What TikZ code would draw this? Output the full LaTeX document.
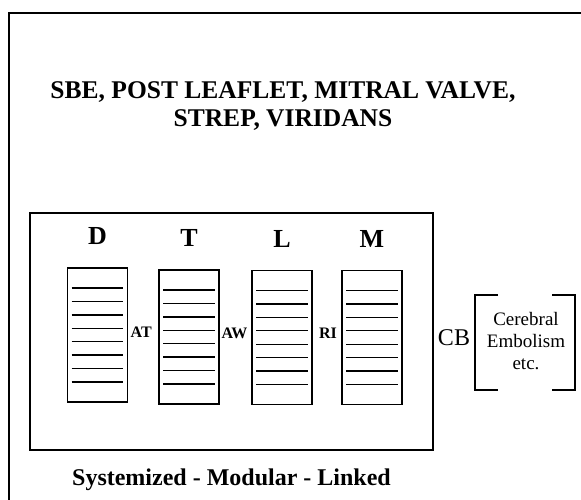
\documentclass[tikz,border=0pt]{standalone}
\usepackage{fontspec}
\setmainfont{Liberation Serif}
\usetikzlibrary{positioning, calc}

\begin{document}
\begin{tikzpicture}[x=1pt, y=-1pt,
        heading/.style={font=\fontsize{25.5}{28}\selectfont\bfseries, align=center, inner sep=0pt},
        letter/.style={font=\fontsize{26}{28}\selectfont\bfseries, inner sep=0pt},
        card/.style={draw, line width=1.9pt, minimum width=60pt, minimum height=134pt, inner sep=0pt},
        link/.style={font=\fontsize{16}{17}\selectfont\bfseries, inner sep=0pt},
        panel/.style={draw, line width=1.7pt, minimum width=403pt, minimum height=237pt, inner sep=0pt},
        note/.style={font=\fontsize{19}{22}\selectfont, align=center, inner sep=0pt}]
        \useasboundingbox (0,0) rectangle (581,500);
        % outer frame
        \draw[line width=2.6pt] (9,500) -- (9,13) -- (581,13);
        \node[heading] (title) at (283,106) {SBE, POST LEAFLET, MITRAL VALVE,\\ STREP, VIRIDANS};
        \node[panel] (box) at (231.5,331.5) {};
        % modules
        \node[card] (d) at (97.5,335) {};
        \node[card] (t) at (189,337) {};
        \node[card] (l) at (282,337.5) {};
        \node[card] (m) at (372,337.5) {};
        \foreach \c/\s in {d/D, t/T, l/L, m/M} {
          \node[letter] at ($(\c.north)+(0,-31)$) {\s};
          \foreach \k in {0,...,7}
            \draw[line width=1.3pt] ($(\c.north west)+(5,21+13.4*\k)$) -- ($(\c.north east)+(-5,21+13.4*\k)$);
        }
        \node[link, right=2pt of d, yshift=3pt] (at) {AT};
        \node[link, right=1.5pt of t, yshift=4pt] (aw) {AW};
        \node[link, left=4pt of m, yshift=4pt] (ri) {RI};
        % embolism
        \node[font=\fontsize{24}{26}\selectfont, inner sep=0pt] (cb) at (454,338) {CB};
        \node[note] (emb) at (526,341) {Cerebral\\ Embolism\\ etc.};
        \draw[line width=2.4pt] (498,295) -- (475,295) -- (475,390) -- (498,390);
        \draw[line width=2.4pt] (552,295) -- (575,295) -- (575,390) -- (552,390);
        \node[font=\fontsize{24}{26}\selectfont\bfseries, below=14pt of box] (tag) {Systemized - Modular - Linked};
      \end{tikzpicture}
\end{document}
